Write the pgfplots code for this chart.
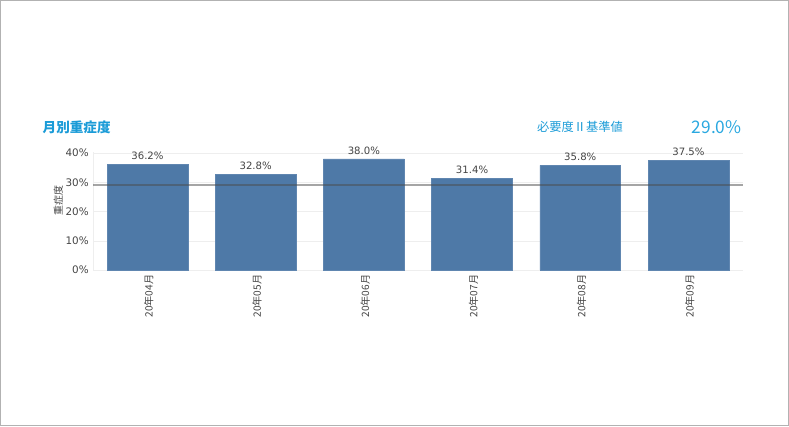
\documentclass[border=0pt]{standalone}
\usepackage{pgfplots}
\pgfplotsset{compat=1.18}
\usepackage{fontspec}
\setmainfont{DejaVu Sans}
\newfontfamily\jp{Noto Sans CJK JP}
\definecolor{barblue}{HTML}{4E79A7}
\definecolor{ttlblue}{HTML}{1A9BD7}
\definecolor{numblue}{HTML}{2AA8E0}
\definecolor{txtgray}{HTML}{444444}
\definecolor{gridgray}{HTML}{EEEEEE}
\begin{document}
\begin{tikzpicture}
\draw[gray!60, line width=0.75pt] (0,0) rectangle (591.75pt,-319.5pt);
\begin{axis}[
  at={(69.75pt,-202.5pt)}, anchor=south west,
  scale only axis, width=487.5pt, height=89pt,
  xmin=-0.5, xmax=5.5, ymin=0, ymax=40.5,
  ybar, bar width=60.75pt, bar shift=0pt,
  xtick=data,
  xticklabels={20年04月,20年05月,20年06月,20年07月,20年08月,20年09月},
  xticklabel style={rotate=90, anchor=east, font=\jp\fontsize{7.6}{9}\selectfont, text=txtgray, xshift=0pt, yshift=-1pt},
  ytick={0,10,20,30,40},
  yticklabel={\pgfmathprintnumber{\tick}\%},
  yticklabel style={font=\fontsize{7.8}{9}\selectfont, text=txtgray},
  /pgf/number format/assume math mode=true,
  major tick length=0pt,
  ymajorgrids, grid style={gridgray, line width=0.5pt},
  axis x line*=bottom, axis y line*=left,
  axis line style={gridgray, line width=0.6pt},
  nodes near coords={\pgfmathprintnumber[fixed,precision=1,fixed zerofill]{\pgfplotspointmeta}\%},
  nodes near coords style={font=\fontsize{7.6}{9}\selectfont, text=txtgray, /pgf/number format/assume math mode=true},
  clip=false,
]
\addplot[fill=barblue, draw=barblue!90!white] coordinates {(0,36.2) (1,32.8) (2,38.0) (3,31.4) (4,35.8) (5,37.5)};
\addplot[sharp plot, no marks, draw=black!70, opacity=0.5, line width=1.3pt, nodes near coords={}] coordinates {(-0.5,29.0) (5.5,29.0)};
\end{axis}
\node[rotate=90, font=\jp\fontsize{7.5}{9}\selectfont, text=txtgray] at (43.5pt,-150pt) {重症度};
\node[anchor=west, font=\jp\bfseries\fontsize{10.2}{12}\selectfont, text=ttlblue, inner sep=0pt] at (31.5pt,-95pt) {月別重症度};
\node[anchor=west, font=\jp\fontsize{9.2}{11}\selectfont, text=ttlblue, inner sep=0pt] at (402.75pt,-94.5pt) {必要度Ⅱ基準値};
\node[anchor=west, font=\jp\fontsize{13}{15}\selectfont, text=numblue, inner sep=0pt] at (519pt,-95.25pt) {29.0\%};
\end{tikzpicture}
\end{document}
